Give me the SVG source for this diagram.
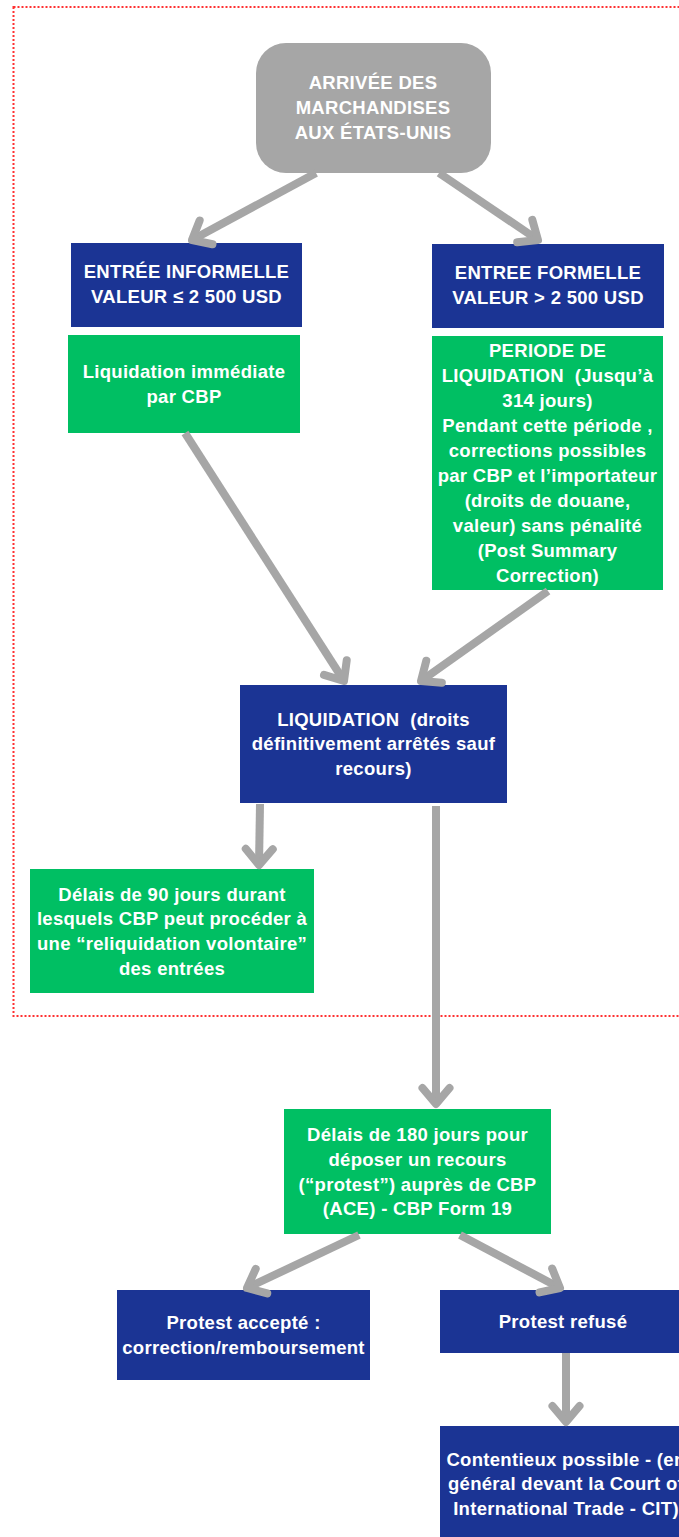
<svg xmlns="http://www.w3.org/2000/svg" width="679" height="1537" viewBox="0 0 679 1537">
<defs>
<style>
.t{font-family:"Liberation Sans",Arial,sans-serif;font-weight:bold;font-size:18.5px;letter-spacing:0.3px;fill:#ffffff;text-anchor:middle}
.blue{fill:#1b3494}
.green{fill:#00bf63}
.conn{stroke:#a6a6a6;stroke-width:8;fill:none;stroke-linecap:butt}
</style>
<marker id="ah" markerUnits="userSpaceOnUse" viewBox="-24 -20 30 40" markerWidth="30" markerHeight="40" refX="0" refY="0" orient="auto">
<path d="M-16,-13.5 L0,0 L-16,13.5" fill="none" stroke="#a6a6a6" stroke-width="8" stroke-linecap="round" stroke-linejoin="round"/>
</marker>
</defs>
<rect width="679" height="1537" fill="#ffffff"/>
<rect id="zone" x="13.5" y="7" width="700" height="1009" fill="none" stroke="#ff3131" stroke-width="2" stroke-dasharray="2,2"/>

<g id="arrivee">
<rect x="256" y="43" width="235" height="130" rx="30" fill="#a6a6a6"/>
<text class="t" x="373" y="89">ARRIVÉE DES</text>
<text class="t" x="373" y="114">MARCHANDISES</text>
<text class="t" x="373" y="139">AUX ÉTATS-UNIS</text>
</g>

<g id="informelle">
<rect class="blue" x="71" y="243" width="231" height="84"/>
<text class="t" x="186.5" y="278">ENTRÉE INFORMELLE</text>
<text class="t" x="186.5" y="303">VALEUR ≤ 2 500 USD</text>
</g>

<g id="formelle">
<rect class="blue" x="432" y="244" width="232" height="84"/>
<text class="t" x="548" y="279">ENTREE FORMELLE</text>
<text class="t" x="548" y="304">VALEUR &gt; 2 500 USD</text>
</g>

<g id="liq-immediate">
<rect class="green" x="68" y="335" width="232" height="98"/>
<text class="t" x="184" y="378">Liquidation immédiate</text>
<text class="t" x="184" y="403">par CBP</text>
</g>

<g id="periode">
<rect class="green" x="432" y="336" width="231" height="254"/>
<text class="t" x="547.5" y="357">PERIODE DE</text>
<text class="t" x="547.5" y="382" xml:space="preserve">LIQUIDATION  (Jusqu’à</text>
<text class="t" x="547.5" y="407">314 jours)</text>
<text class="t" x="547.5" y="432">Pendant cette période ,</text>
<text class="t" x="547.5" y="457">corrections possibles</text>
<text class="t" x="547.5" y="482">par CBP et l’importateur</text>
<text class="t" x="547.5" y="507">(droits de douane,</text>
<text class="t" x="547.5" y="532">valeur) sans pénalité</text>
<text class="t" x="547.5" y="557">(Post Summary</text>
<text class="t" x="547.5" y="582">Correction)</text>
</g>

<g id="liquidation">
<rect class="blue" x="240" y="685" width="267" height="118"/>
<text class="t" x="373.5" y="726" xml:space="preserve">LIQUIDATION  (droits</text>
<text class="t" x="373.5" y="750">définitivement arrêtés sauf</text>
<text class="t" x="373.5" y="775">recours)</text>
</g>

<g id="reliquidation">
<rect class="green" x="30" y="869" width="284" height="124"/>
<text class="t" x="172" y="901">Délais de 90 jours durant</text>
<text class="t" x="172" y="925">lesquels CBP peut procéder à</text>
<text class="t" x="172" y="950">une “reliquidation volontaire”</text>
<text class="t" x="172" y="975">des entrées</text>
</g>

<g id="protest-delai">
<rect class="green" x="284" y="1109" width="267" height="125"/>
<text class="t" x="417.5" y="1141">Délais de 180 jours pour</text>
<text class="t" x="417.5" y="1166">déposer un recours</text>
<text class="t" x="417.5" y="1191">(“protest”) auprès de CBP</text>
<text class="t" x="417.5" y="1215">(ACE) - CBP Form 19</text>
</g>

<g id="accepte">
<rect class="blue" x="117" y="1290" width="253" height="90"/>
<text class="t" x="243.5" y="1329">Protest accepté :</text>
<text class="t" x="243.5" y="1354">correction/remboursement</text>
</g>

<g id="refuse">
<rect class="blue" x="440" y="1290" width="250" height="63"/>
<text class="t" x="563" y="1328">Protest refusé</text>
</g>

<g id="contentieux">
<rect class="blue" x="440" y="1426" width="250" height="120"/>
<text class="t" x="566" y="1466">Contentieux possible - (en</text>
<text class="t" x="566" y="1490">général devant la Court of</text>
<text class="t" x="566" y="1515">International Trade - CIT)</text>
</g>

<g id="connectors">
<line class="conn" x1="316" y1="173" x2="192" y2="240" marker-end="url(#ah)"/>
<line class="conn" x1="439" y1="173" x2="538" y2="240" marker-end="url(#ah)"/>
<line class="conn" x1="185" y1="433" x2="344" y2="681" marker-end="url(#ah)"/>
<line class="conn" x1="548" y1="591" x2="421" y2="681" marker-end="url(#ah)"/>
<line class="conn" x1="260" y1="804" x2="259" y2="865" marker-end="url(#ah)"/>
<line class="conn" x1="436" y1="806" x2="436" y2="1104" marker-end="url(#ah)"/>
<line class="conn" x1="359" y1="1235" x2="247" y2="1288" marker-end="url(#ah)"/>
<line class="conn" x1="460" y1="1235" x2="560" y2="1288" marker-end="url(#ah)"/>
<line class="conn" x1="566" y1="1353" x2="566" y2="1422" marker-end="url(#ah)"/>
</g>
</svg>
